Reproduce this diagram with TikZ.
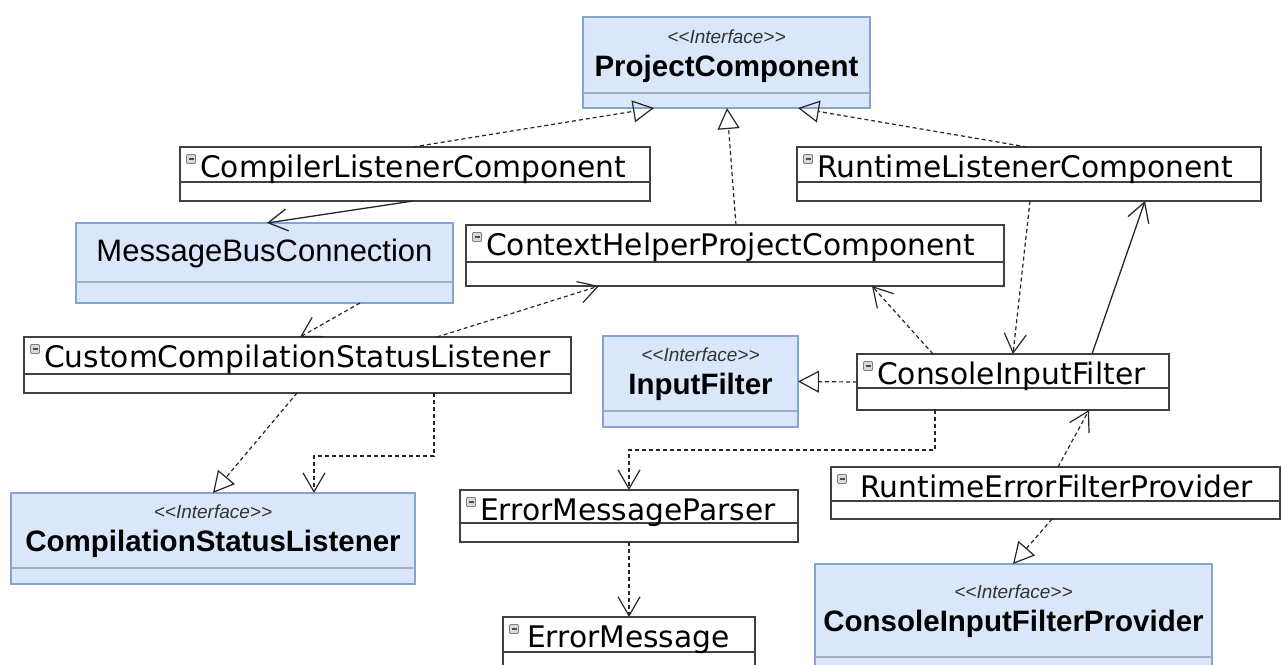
\documentclass[tikz,border=0pt]{standalone}
\usepackage{fontspec}
\usepackage{tikz}
\usetikzlibrary{arrows.meta}
\newfontfamily\classfont{DejaVu Sans}
\newfontfamily\ifacefont{Liberation Sans}

\definecolor{ifacefill}{RGB}{218,231,250}
\definecolor{ifaceline}{RGB}{135,163,210}
\definecolor{ifacegray}{RGB}{165,172,186}
\definecolor{classline}{RGB}{64,64,64}

\tikzstyle{classbox} = [draw=classline, line width=1.5pt, fill=white, inner sep=0pt, outer sep=0pt]
\tikzstyle{ifacebox} = [draw=ifaceline, line width=1.5pt, fill=ifacefill, inner sep=0pt, outer sep=0pt]
\tikzstyle{classname} = [anchor=base west, inner sep=0pt, font=\classfont\fontsize{29.7}{34}\selectfont]
\tikzstyle{stereo} = [anchor=base, inner sep=0pt, text=black!80, font=\ifacefont\itshape\fontsize{19}{22}\selectfont]
\tikzstyle{ifacename} = [anchor=base, inner sep=0pt, font=\ifacefont\bfseries\fontsize{29.5}{34}\selectfont]
\tikzstyle{busname} = [anchor=base, inner sep=0pt, font=\ifacefont\fontsize{31}{36}\selectfont]
\tikzstyle{minusicon} = [draw=gray, fill=gray!30, rounded corners=1pt, minimum size=9pt, inner sep=0pt, line width=0.8pt]
\tikzstyle{realize} = [line width=1.2pt, black!85, dash pattern=on 4pt off 3pt, -{Triangle[open,length=21pt,width=22pt]}]
\tikzstyle{depend} = [line width=1.2pt, black!85, dash pattern=on 4pt off 3pt, -{Straight Barb[length=19pt,width=22pt]}]
\tikzstyle{assoc} = [line width=1.3pt, black!85, -{Straight Barb[length=19pt,width=22pt]}]

% #1 name, #2 left, #3 top, #4 right, #5 bottom, #6 separator, #7 label
\newcommand{\umlclass}[7]{%
  \node[classbox, minimum width={#4-#2}, minimum height={#5-#3}] (#1) at ({(#2+#4)/2},{(#3+#5)/2}) {};
  \draw[classline, line width=1.3pt] (#1.west |- 0,#6) -- (#1.east |- 0,#6);
  \node[minusicon] (#1-icon) at ([xshift=11pt,yshift=-12pt]#1.north west) {};
  \draw[line width=1.3pt, black!70] ([xshift=-2.5pt]#1-icon.center) -- ([xshift=2.5pt]#1-icon.center);
  \node[classname] (#1-name) at ([xshift=20pt,yshift=-30pt]#1.north west) {#7};
}
\newcommand{\umliface}[7]{%
  \node[ifacebox, minimum width={#4-#2}, minimum height={#5-#3}] (#1) at ({(#2+#4)/2},{(#3+#5)/2}) {};
  \draw[ifacegray, line width=1.3pt] (#1.west |- 0,#6) -- (#1.east |- 0,#6);
  \node[stereo] (#1-st) at ({(#2+#4)/2},{(#3+#6)/2-12}) {<\kern0pt<Interface>\kern0pt>};
  \node[ifacename] (#1-name) at ({(#2+#4)/2},{(#3+#6)/2+21}) {#7};
}

\begin{document}
\begin{tikzpicture}[x=1pt, y=-1pt]
    \useasboundingbox (0,0) rectangle (1282,664);
    % interfaces
    \umliface{pc}{583}{17}{870}{108}{93}{ProjectComponent}
    \umliface{ifl}{603}{336}{798}{427}{411}{InputFilter}
    \umliface{csl}{11}{493}{415}{584}{568}{CompilationStatusListener}
    \umliface{cifp}{815}{564}{1212}{677}{657}{ConsoleInputFilterProvider}
    % message bus (no stereotype)
    \node[ifacebox, minimum width=377, minimum height=80] (mbc) at (264.5,263) {};
    \draw[ifacegray, line width=1.3pt] (mbc.west |- 0,282) -- (mbc.east |- 0,282);
    \node[busname] (mbc-name) at (264.5,261) {MessageBusConnection};
    % classes
    \umlclass{clc}{180}{147}{650}{201}{182}{CompilerListenerComponent}
    \umlclass{rlc}{797}{147}{1261}{201}{182}{RuntimeListenerComponent}
    \umlclass{chpc}{466}{225}{1004}{286}{262}{ContextHelperProjectComponent}
    \umlclass{ccsl}{24}{337}{571}{393}{374}{CustomCompilationStatusListener}
    \umlclass{cif}{857}{354}{1169}{410}{388}{ConsoleInputFilter}
    \umlclass{emp}{460}{490}{798}{542}{523}{ErrorMessageParser}
    \umlclass{refp}{831}{467}{1280}{519}{501}{\ RuntimeErrorFilterProvider}
    \umlclass{em}{503}{617}{755}{672}{652}{\hspace{4pt}ErrorMessage}
    % realizations
    \draw[realize] ([xshift=233pt]clc.north west) -- ([xshift=71pt]pc.south west);
    \draw[realize] ([xshift=270pt]chpc.north west) -- ([xshift=144pt]pc.south west);
    \draw[realize] ([xshift=230pt]rlc.north west) -- ([xshift=215pt]pc.south west);
    \draw[realize] ([xshift=273pt]ccsl.south west) -- ([xshift=202pt]csl.north west);
    \draw[realize] (cif.west) -- (ifl.east);
    \draw[realize] ([xshift=221pt]refp.south west) -- ([xshift=198pt]cifp.north west);
    % associations
    \draw[assoc] ([xshift=233pt]clc.south west) -- ([xshift=191pt]mbc.north west);
    \draw[assoc] ([xshift=235pt]cif.north west) -- ([xshift=348pt]rlc.south west);
    % dependencies
    \draw[depend] ([xshift=284pt]mbc.south west) -- ([xshift=276pt]ccsl.north west);
    \draw[depend] ([xshift=413pt]ccsl.north west) -- ([xshift=133pt]chpc.south west);
    \draw[depend] ([xshift=410pt]ccsl.south west) -- ++(0,63) -| ([xshift=303pt]csl.north west);
    \draw[depend] ([xshift=76pt]cif.north west) -- ([xshift=406pt]chpc.south west);
    \draw[depend] ([xshift=233pt]rlc.south west) -- ([xshift=156pt]cif.north west);
    \draw[depend] ([xshift=78pt]cif.south west) -- ++(0,40) -| ([xshift=169pt]emp.north west);
    \draw[depend] ([xshift=227pt]refp.north west) -- ([xshift=232pt]cif.south west);
    \draw[depend] ([xshift=169pt]emp.south west) -- ([xshift=126pt]em.north west);
\end{tikzpicture}
\end{document}
